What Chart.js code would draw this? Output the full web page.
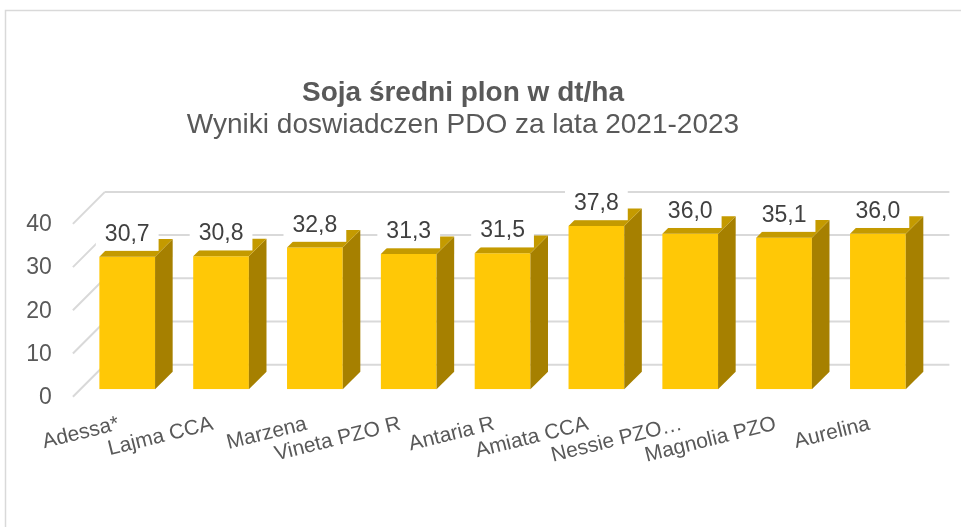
<!DOCTYPE html>
<html>
<head>
<meta charset="utf-8">
<script src="https://cdn.jsdelivr.net/npm/chart.js@4/dist/chart.umd.min.js"></script>
<style>
    html, body { margin: 0; padding: 0; background: #fff; }
    #wrap { position: relative; width: 961px; height: 527px; }
</style>
</head>
<body>
<div id="wrap"><canvas id="soja"></canvas></div>
<script>
(function () {

    "use strict";

    // data
    var categories = ['Adessa*', 'Lajma CCA', 'Marzena', 'Vineta PZO R', 'Antaria R', 'Amiata CCA', 'Nessie PZO\u2026', 'Magnolia PZO', 'Aurelina'];
    var yields = [30.7, 30.8, 32.8, 31.3, 31.5, 37.8, 36.0, 35.1, 36.0];
    var yTicks = [0, 10, 20, 30, 40];
    var titleText = 'Soja średni plon w dt/ha';
    var subtitleText = 'Wyniki doswiadczen PDO za lata 2021-2023';

    var FONT = '"Liberation Sans", Arial, sans-serif';
    var FRONT = 7.4;   // floor edge in front of the bars
    var DEPTH = 17.6;  // bar depth
    var BACK = 24.6;   // bar front plane -> back wall

    var colors = {
        front: '#FFC806',
        side: '#A68000',
        top: '#C49A00',
        grid: '#D9D9D9',
        text: '#595959',
        label: '#404040'
    };

    function fmt(v) {
        return v.toFixed(1).replace('.', ',');
    }

    var threeD = {
        id: 'threeD',

        beforeDatasetsDraw: function (chart) {
            var ctx = chart.ctx;
            var area = chart.chartArea;
            var yScale = chart.scales.y;

            ctx.save();

            // chart frame
            ctx.strokeStyle = colors.grid;
            ctx.lineWidth = 1.5;
            ctx.beginPath();
            ctx.moveTo(5.5, chart.height);
            ctx.lineTo(5.5, 10.5);
            ctx.lineTo(chart.width, 10.5);
            ctx.stroke();

            // titles
            ctx.fillStyle = colors.text;
            ctx.textAlign = 'center';
            ctx.textBaseline = 'middle';
            ctx.font = 'bold 28px ' + FONT;
            ctx.fillText(titleText, 463, 93);
            ctx.font = '28px ' + FONT;
            ctx.fillText(subtitleText, 463, 125);

            // back wall grid + side wall lines + value axis labels
            ctx.strokeStyle = colors.grid;
            ctx.lineWidth = 2;
            ctx.font = '23px ' + FONT;
            ctx.textAlign = 'right';
            for (var i = 0; i < yTicks.length; i++) {
                var y = yScale.getPixelForValue(yTicks[i]);
                ctx.beginPath();
                ctx.moveTo(area.left + BACK, y - BACK);
                ctx.lineTo(area.right + BACK, y - BACK);
                ctx.stroke();

                var x0 = area.left - FRONT;
                var y0 = y + FRONT;
                ctx.beginPath();
                ctx.moveTo(x0, y0);
                ctx.lineTo(x0 + FRONT + BACK, y0 - FRONT - BACK);
                ctx.stroke();

                ctx.fillText(String(yTicks[i]), x0 - 21, y0 + 1);
            }
            ctx.restore();
        },

        afterDatasetsDraw: function (chart) {
            var ctx = chart.ctx;
            var meta = chart.getDatasetMeta(0);
            var data = chart.data.datasets[0].data;
            var labels = chart.data.labels;

            ctx.save();
            meta.data.forEach(function (bar) {
                var p = bar.getProps(['x', 'y', 'width', 'base'], true);
                var l = p.x - p.width / 2, r = p.x + p.width / 2;

                ctx.fillStyle = colors.side;
                ctx.beginPath();
                ctx.moveTo(r, p.y);
                ctx.lineTo(r + DEPTH, p.y - DEPTH);
                ctx.lineTo(r + DEPTH, p.base - DEPTH);
                ctx.lineTo(r, p.base);
                ctx.closePath();
                ctx.fill();

                ctx.fillStyle = colors.top;
                ctx.beginPath();
                ctx.moveTo(l, p.y);
                ctx.lineTo(l + DEPTH, p.y - DEPTH);
                ctx.lineTo(r + DEPTH, p.y - DEPTH);
                ctx.lineTo(r, p.y);
                ctx.closePath();
                ctx.fill();
            });

            // value labels on white boxes
            ctx.font = '23px ' + FONT;
            ctx.textAlign = 'center';
            ctx.textBaseline = 'middle';
            meta.data.forEach(function (bar, i) {
                var p = bar.getProps(['x', 'y'], true);
                var txt = fmt(data[i]);
                var tw = ctx.measureText(txt).width;
                var cy = p.y - 23.3;
                ctx.fillStyle = '#fff';
                ctx.fillRect(p.x - tw / 2 - 9, cy - 17.5, tw + 18, 35);
                ctx.fillStyle = colors.label;
                ctx.fillText(txt, p.x, cy + 1);
            });

            // slanted category labels
            ctx.font = '21px ' + FONT;
            ctx.fillStyle = colors.text;
            ctx.textAlign = 'right';
            ctx.textBaseline = 'alphabetic';
            meta.data.forEach(function (bar, i) {
                var p = bar.getProps(['x', 'base'], true);
                ctx.save();
                ctx.translate(p.x - 7, p.base + 40);
                ctx.rotate(-14 * Math.PI / 180);
                ctx.fillText(labels[i], 0, 0);
                ctx.restore();
            });
            ctx.restore();
        }
    };

    var chart = new Chart(document.getElementById('soja').getContext('2d'), {
        type: 'bar',
        data: {
            labels: categories,
            datasets: [{
                data: yields,
                backgroundColor: colors.front,
                borderWidth: 0,
                categoryPercentage: 1,
                barPercentage: 0.5935
            }]
        },
        options: {
            responsive: true,
            maintainAspectRatio: false,
            animation: false,
            layout: {
                padding: { left: 80.3, right: 36.2, top: 216.5, bottom: 137.7 }
            },
            plugins: {
                legend: { display: false },
                title: { display: false },
                tooltip: { enabled: false }
            },
            scales: {
                x: { display: false, offset: true },
                y: { display: false, min: 0, max: 40 }
            }
        },
        plugins: [threeD]
    });

})();
</script>
</body>
</html>
